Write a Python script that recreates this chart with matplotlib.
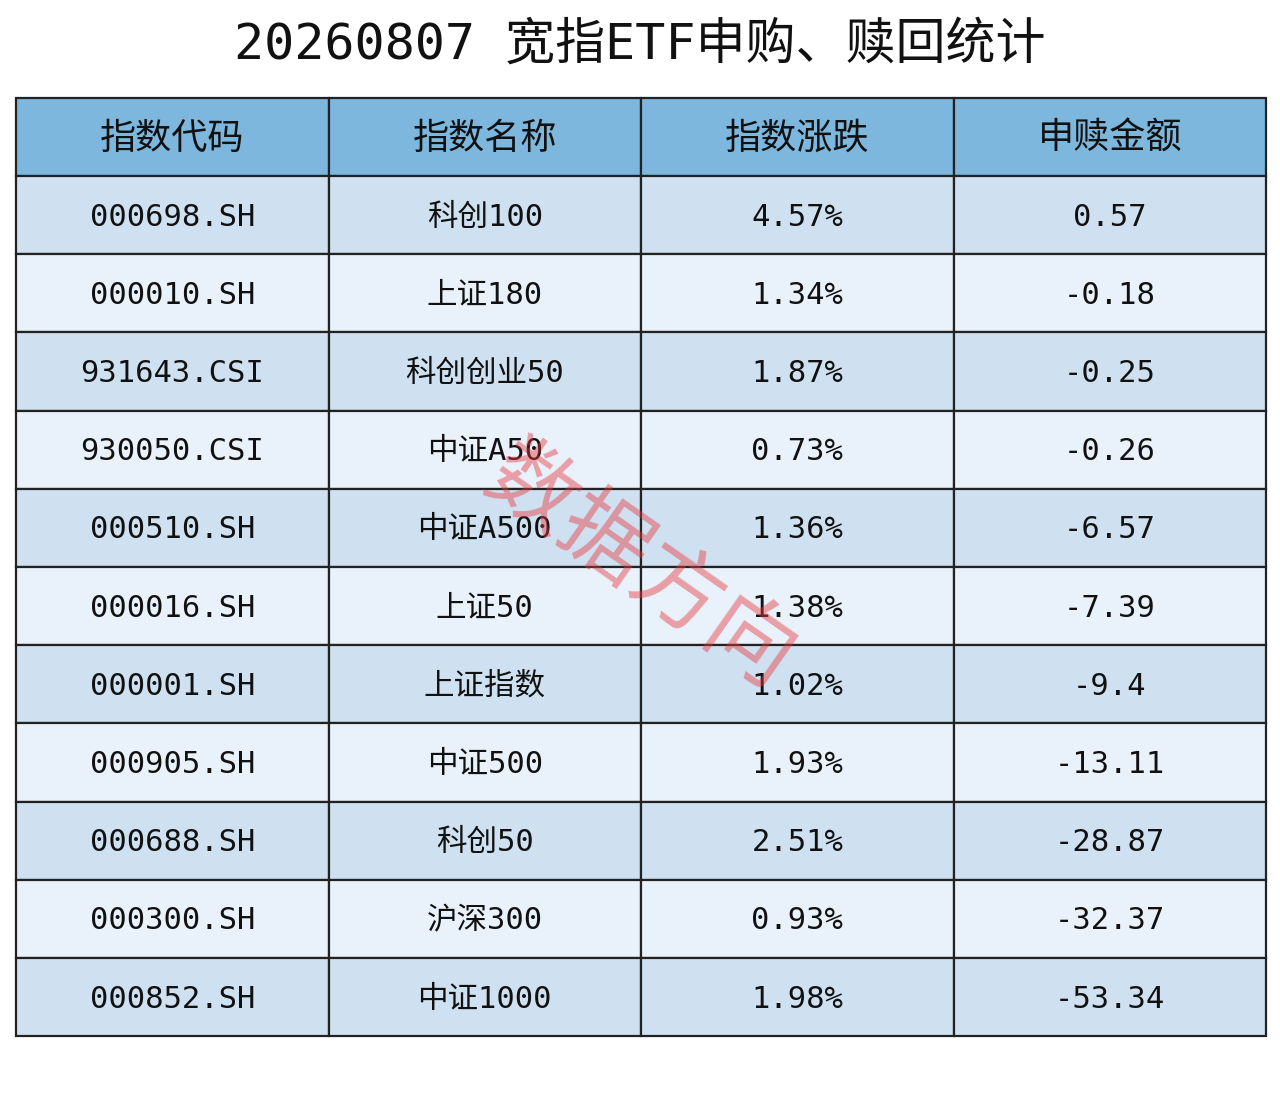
import matplotlib.pyplot as plt
from matplotlib.patches import Rectangle

plt.rcParams['font.family'] = ['Noto Sans CJK SC', 'DejaVu Sans']
MONO = ['DejaVu Sans Mono', 'Noto Sans CJK SC']

TITLE = "20260807 宽指ETF申购、赎回统计"
HEADERS = ["指数代码", "指数名称", "指数涨跌", "申赎金额"]
codes = ["000698.SH", "000010.SH", "931643.CSI", "930050.CSI", "000510.SH", "000016.SH",
         "000001.SH", "000905.SH", "000688.SH", "000300.SH", "000852.SH"]
names = ["科创100", "上证180", "科创创业50", "中证A50", "中证A500", "上证50",
         "上证指数", "中证500", "科创50", "沪深300", "中证1000"]
changes = ["4.57%", "1.34%", "1.87%", "0.73%", "1.36%", "1.38%",
           "1.02%", "1.93%", "2.51%", "0.93%", "1.98%"]
flows = ["0.57", "-0.18", "-0.25", "-0.26", "-6.57", "-7.39",
         "-9.4", "-13.11", "-28.87", "-32.37", "-53.34"]

fig = plt.figure(figsize=(12.8, 11.05), dpi=100)
ax = fig.add_axes([0, 0, 1, 1])
ax.set_xlim(0, 1280)
ax.set_ylim(1105, 0)
ax.axis('off')

left, right, top = 16, 1266, 98
header_h, row_h = 78, 78.2
col_w = (right - left) / 4

ax.text(640, 45, TITLE, ha='center', va='center', fontsize=36, color='#111111',
        family=MONO)

def cell(x, y, w, h, color, txt, size, fam):
    ax.add_patch(Rectangle((x, y), w, h, facecolor=color, edgecolor='#222222', lw=1.6))
    ax.text(x + w / 2, y + h / 2 + 2, txt, ha='center', va='center', fontsize=size,
            color='#111111', family=fam)

for j, h in enumerate(HEADERS):
    cell(left + j * col_w, top, col_w, header_h, '#7db7dd', h, 26, MONO)

rows = list(zip(codes, names, changes, flows))
for i, r in enumerate(rows):
    y = top + header_h + i * row_h
    color = '#cfe1f1' if i % 2 == 0 else '#e9f2fb'
    for j, v in enumerate(r):
        cell(left + j * col_w, y, col_w, row_h, color, v, 22, MONO)

ax.text(640, 568, "数据方向", ha='center', va='center', fontsize=64, color='#e8383d',
        alpha=0.45, rotation=-35)

fig.savefig("out.png", dpi=100)
